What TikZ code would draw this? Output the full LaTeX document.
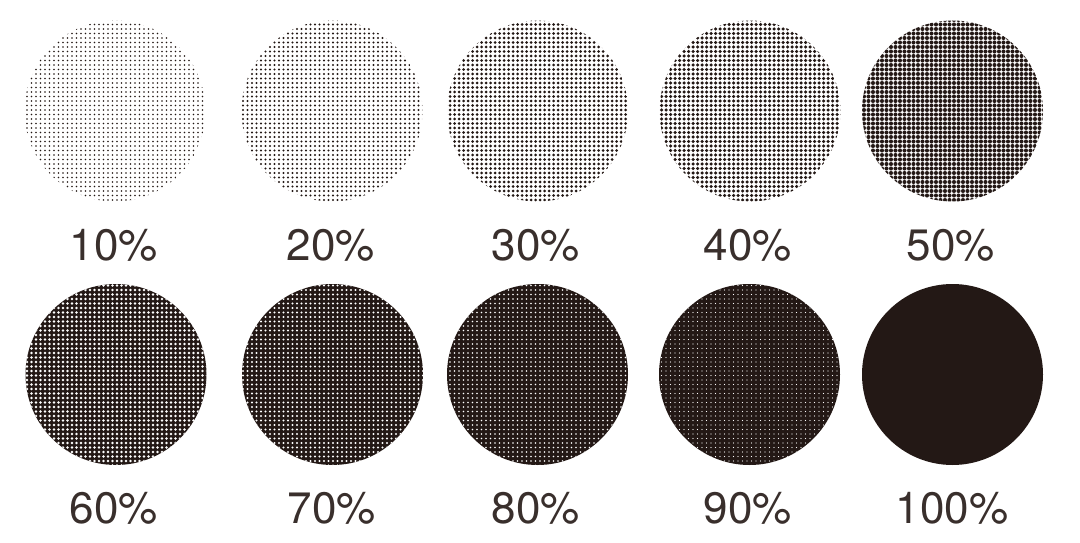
\documentclass[tikz,border=0pt]{standalone}
\usepackage{fontspec}
\setmainfont{TeX Gyre Heros}
\usetikzlibrary{patterns.meta}
\definecolor{ink}{HTML}{231815}
\tikzdeclarepattern{
  name=halftone,
  parameters={\pgfkeysvalueof{/pgf/pattern keys/dotradius}},
  bounding box={(-2.25pt,-2.25pt) and (2.25pt,2.25pt)},
  tile size={(4.5pt,4.5pt)},
  defaults={dotradius/.initial=1pt},
  code={\fill (0pt,0pt) circle[radius=\pgfkeysvalueof{/pgf/pattern keys/dotradius}];}
}
\tikzset{
  disc/.style={circle, inner sep=0pt, minimum size=181pt},
  darkdots/.style={disc, pattern={halftone[dotradius=#1]}, pattern color=ink},
  lightdots/.style={disc, preaction={fill=ink}, pattern={halftone[dotradius=#1]}, pattern color=white},
  solid disc/.style={disc, fill=ink},
  pct/.style={anchor=base, text=ink!90, font=\fontsize{44}{44}\selectfont},
}
\begin{document}
\begin{tikzpicture}[x=1pt,y=1pt]
\useasboundingbox (0,0) rectangle (1080,542);
% row 1 (coverage 10..50 %)
\node[darkdots=0.85pt] (c10) at (115,431) {};
\node[darkdots=1.2pt]  (c20) at (332,431) {};
\node[darkdots=1.5pt]  (c30) at (537.5,431) {};
\node[darkdots=1.75pt] (c40) at (750,431) {};
\node[darkdots=2.05pt] (c50) at (952.5,431) {};
% row 2 (coverage 60..100 %)
\node[lightdots=1.45pt] (c60) at (116,167.5) {};
\node[lightdots=1.2pt]  (c70) at (332.5,167.5) {};
\node[lightdots=0.95pt] (c80) at (537.5,167.5) {};
\node[lightdots=0.55pt] (c90) at (749.5,167.5) {};
\node[solid disc] (c100) at (952.5,167.5) {};
% labels
\node[pct] (l10) at (114,282) {10\%};
\node[pct] (l20) at (331,282) {20\%};
\node[pct] (l30) at (536,282) {30\%};
\node[pct] (l40) at (748,282) {40\%};
\node[pct] (l50) at (951,282) {50\%};
\node[pct] (l60) at (114,19) {60\%};
\node[pct] (l70) at (332,19) {70\%};
\node[pct] (l80) at (536,19) {80\%};
\node[pct] (l90) at (748,19) {90\%};
\node[pct] (l100) at (952,19) {100\%};
\end{tikzpicture}
\end{document}
